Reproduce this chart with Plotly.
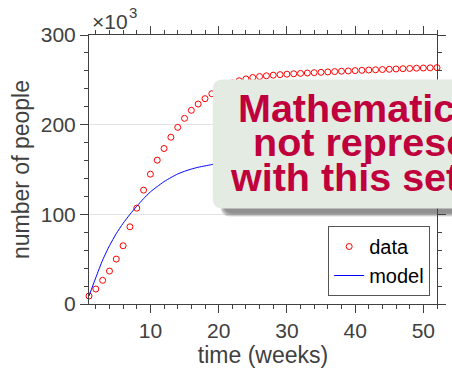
import plotly.graph_objects as go

# ---- data (counts in thousands of people) ----
weeks = list(range(1, 53))
data_k = [8.9, 16.7, 26.4, 36.7, 50.1, 65.0, 86.1, 106.9, 127.0, 144.8,
          160.4, 173.4, 186.0, 197.0, 207.0, 216.0, 223.0, 229.0, 234.5, 239.5,
          243.5, 246.5, 249.0, 251.0, 252.6, 253.7, 254.5, 255.2, 255.8, 256.3,
          256.8, 257.2, 257.6, 258.0, 258.4, 258.8, 259.2, 259.6, 259.9, 260.3,
          260.6, 260.9, 261.2, 261.5, 261.8, 262.1, 262.4, 262.7, 263.0, 263.2,
          263.4, 263.6]
model_k = [8.9, 29.5, 49.0, 65.0, 78.5, 90.0, 100.0, 109.0, 117.5, 125.0,
           131.0, 136.5, 141.0, 145.0, 148.0, 150.5, 152.5, 154.0, 155.5, 156.5,
           157.5, 158.3, 159.0, 159.6, 160.1, 160.5, 160.9, 161.2, 161.5, 161.7,
           161.9, 162.1, 162.2, 162.3, 162.4, 162.5, 162.6, 162.7, 162.8, 162.8,
           162.9, 162.9, 163.0, 163.0, 163.1, 163.1, 163.1, 163.2, 163.2, 163.2,
           163.3, 163.3]
y_ticks = [0, 100, 200, 300]
y_ticktext = ["0", "100", "200", "300"]
x_ticks = [10, 20, 30, 40, 50]

callout_lines = ["Mathematical model is", "not representative", "with this set of data"]

W, H = 452, 373
ML, MR, MT, MB = 89, 6, 35, 69
PW, PH = W - ML - MR, H - MT - MB

def px_x(px):
    return (px - ML) / PW

def px_y(py):
    return (H - MB - py) / PH

def rounded_rect(x0, y0, x1, y1, r):
    """Rounded rectangle path (pixel corners) in paper coordinates."""
    X = px_x
    Y = px_y
    return (f"M {X(x0 + r)},{Y(y0)} L {X(x1 - r)},{Y(y0)} "
            f"Q {X(x1)},{Y(y0)} {X(x1)},{Y(y0 + r)} "
            f"L {X(x1)},{Y(y1 - r)} Q {X(x1)},{Y(y1)} {X(x1 - r)},{Y(y1)} "
            f"L {X(x0 + r)},{Y(y1)} Q {X(x0)},{Y(y1)} {X(x0)},{Y(y1 - r)} "
            f"L {X(x0)},{Y(y0 + r)} Q {X(x0)},{Y(y0)} {X(x0 + r)},{Y(y0)} Z")

AX = "#404040"
FONT = "Liberation Sans, Arial, sans-serif"

fig = go.Figure()
fig.add_trace(go.Scatter(
    x=weeks, y=data_k, mode="markers", name="data", cliponaxis=False,
    marker=dict(symbol="circle-open", size=6, color="#ff0000",
                line=dict(width=1, color="#ff0000"))))
fig.add_trace(go.Scatter(
    x=weeks, y=model_k, mode="lines", name="model",
    line=dict(color="#0000ff", width=1, shape="spline", smoothing=0.6)))

# callout box with soft drop shadow
shapes = []
bx0, by0, bx1, by1 = 216, 79.5, 480, 208.5
for k in range(4):
    shapes.append(dict(type="path", xref="paper", yref="paper", layer="above",
                       path=rounded_rect(bx0 + 11 - k, by0 + 8 - k, bx1, by1 + 5 + k, 10),
                       fillcolor="rgba(70,70,70,0.2)", line=dict(width=0)))
shapes.append(dict(type="path", xref="paper", yref="paper", layer="above",
                   path=rounded_rect(bx0, by0, bx1, by1, 10),
                   fillcolor="#e3ebe3", line=dict(width=0)))

# axis multiplier label above the y axis
annotations = [
    dict(text="×10", xref="paper", yref="paper", x=px_x(90), y=px_y(22),
         xanchor="left", yanchor="middle", showarrow=False,
         font=dict(size=21, color=AX, family=FONT)),
    dict(text="3", xref="paper", yref="paper", x=px_x(128), y=px_y(12),
         xanchor="left", yanchor="middle", showarrow=False,
         font=dict(size=15, color=AX, family=FONT)),
]
line_left = [240, 255, 232]
line_mid = [108, 142, 177]
for txt, lx, ly in zip(callout_lines, line_left, line_mid):
    annotations.append(dict(text=txt, xref="paper", yref="paper",
                            x=px_x(lx), y=px_y(ly), xanchor="left", yanchor="middle",
                            showarrow=False,
                            font=dict(size=39.5, color="#c0003c", weight="bold",
                                      family=FONT)))

fig.update_layout(
    width=W, height=H, margin=dict(l=ML, r=MR, t=MT, b=MB),
    plot_bgcolor="white", paper_bgcolor="white",
    font=dict(family=FONT, size=21, color=AX),
    shapes=shapes, annotations=annotations,
    legend=dict(x=px_x(439), y=px_y(296), xanchor="right", yanchor="bottom",
                bgcolor="white", bordercolor="#555555", borderwidth=1,
                font=dict(size=20, color="black"), itemwidth=30,
                tracegroupgap=0),
    xaxis=dict(range=[1, 52], tickvals=x_ticks, ticks="outside", ticklen=8,
               tickwidth=1, tickcolor=AX, showline=True, linecolor=AX,
               linewidth=1, mirror="ticks", showgrid=False, zeroline=False,
               minor=dict(dtick=2, tick0=0, ticks="outside", ticklen=4,
                          tickcolor=AX, showgrid=False),
               title=dict(text="time (weeks)", font=dict(size=23, color=AX),
                          standoff=5)),
    yaxis=dict(range=[0, 300], tickvals=y_ticks, ticktext=y_ticktext,
               ticks="outside", ticklen=8, tickwidth=1, tickcolor=AX,
               showline=True, linecolor=AX, linewidth=1, mirror="ticks",
               showgrid=True, gridcolor="#e3e3e3", zeroline=False,
               minor=dict(dtick=20, tick0=0, ticks="outside", ticklen=4,
                          tickcolor=AX, showgrid=False),
               title=dict(text="number of people", font=dict(size=23, color=AX),
                          standoff=4)),
)

fig.write_html("out.html")
